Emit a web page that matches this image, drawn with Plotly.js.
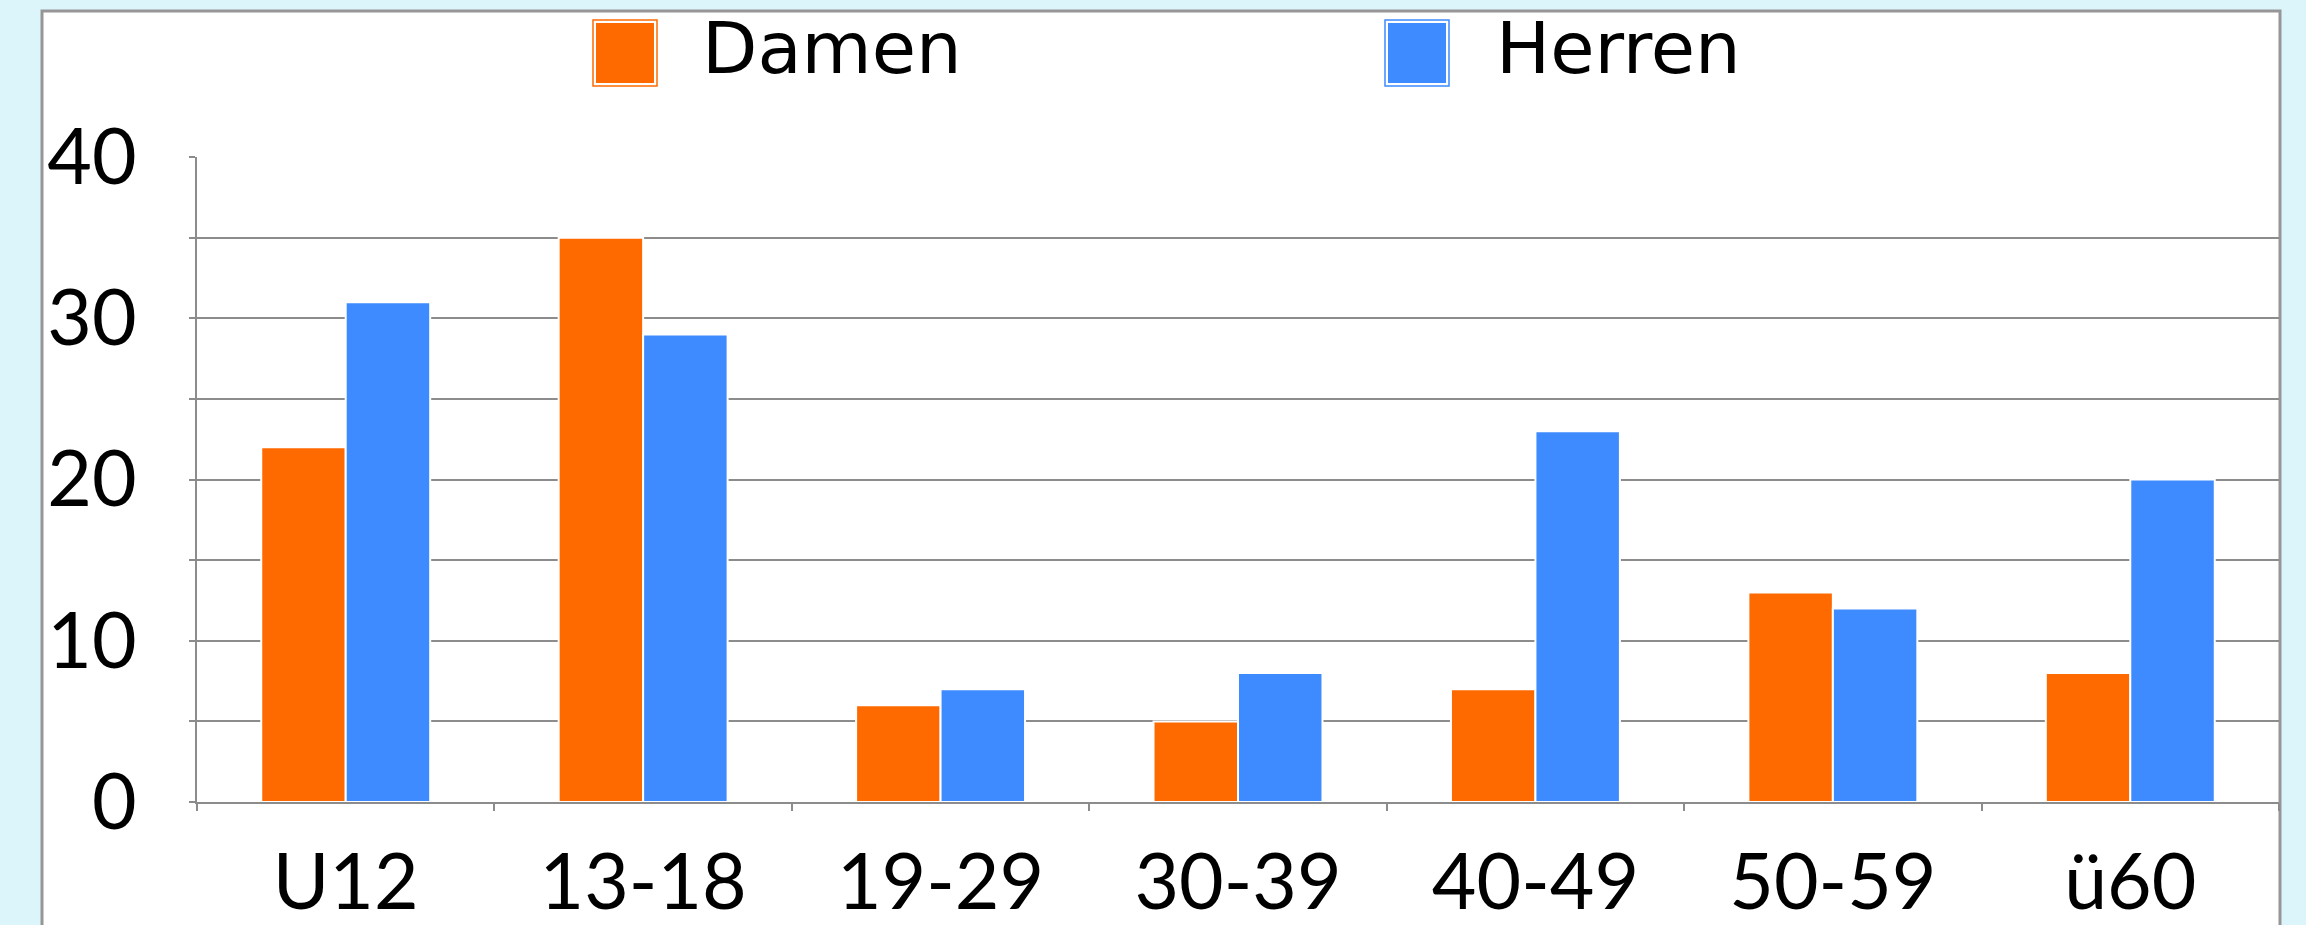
<!DOCTYPE html>
<html><head><meta charset="utf-8">
<script src="https://cdn.plot.ly/plotly-3.0.1.min.js"></script>
<style>html,body{margin:0;padding:0;background:#dcf5fb;} #chart{width:2306px;height:925px;}</style>
</head><body><div id="chart"></div>
<script>
const categories = ['U12','13-18','19-29','30-39','40-49','50-59','ü60'];
const damen = [22,35,6,5,7,13,8];
const herren = [31,29,7,8,23,12,20];
const seriesNames = ['Damen','Herren'];
const seriesColors = ['#ff6a00','#3d8bff'];
const yTickVals = [0,5,10,15,20,25,30,35,40];
const yTickText = ['0','','10','','20','','30','','40'];

const W = 2306, H = 925;
const PL = 197, PR = 2279, PT = 157, PB = 802;
const px = x => (x - PL) / (PR - PL);
const py = y => (PB - y) / (PB - PT);

const seriesValues = [damen, herren];
const traces = seriesNames.map((name, i) => ({
  type: 'bar', name: name, x: categories, y: seriesValues[i],
  marker: {color: seriesColors[i], line: {color: '#ffffff', width: 2}},
  hoverinfo: 'x+y+name', showlegend: false
}));

const shapes = [{
  type: 'rect', xref: 'paper', yref: 'paper', layer: 'below',
  x0: px(42), x1: px(2280), y0: py(1000), y1: py(11),
  fillcolor: '#ffffff', line: {color: '#969696', width: 3}
}];
const annotations = [];
const legSwX = [593, 1385], legTxtX = [700, 1494];
seriesNames.forEach((name, i) => {
  shapes.push({type: 'rect', xref: 'paper', yref: 'paper', layer: 'above',
    x0: px(legSwX[i]), x1: px(legSwX[i] + 64), y0: py(86), y1: py(20),
    fillcolor: '#ffffff', line: {color: seriesColors[i], width: 1.5}});
  shapes.push({type: 'rect', xref: 'paper', yref: 'paper', layer: 'above',
    x0: px(legSwX[i] + 3), x1: px(legSwX[i] + 61), y0: py(83), y1: py(23),
    fillcolor: seriesColors[i], line: {width: 0}});
  annotations.push({xref: 'paper', yref: 'paper', x: px(legTxtX[i]), y: py(48),
    xanchor: 'left', yanchor: 'middle', showarrow: false, text: name,
    font: {family: 'DejaVu Sans', size: 72, color: '#000000'}});
});

const layout = {
  width: W, height: H,
  margin: {l: PL, r: W - PR, t: PT, b: H - PB, pad: 0},
  paper_bgcolor: '#dcf5fb', plot_bgcolor: 'rgba(0,0,0,0)',
  barmode: 'group', bargap: 0.432, bargroupgap: 0,
  showlegend: false,
  font: {family: 'Lato, Carlito, sans-serif', color: '#000000'},
  xaxis: {
    type: 'category', tickson: 'boundaries', ticks: 'outside', ticklen: 7,
    tickcolor: '#8c8c8c', tickwidth: 2, showline: true, linecolor: '#8c8c8c', linewidth: 2,
    showgrid: false, zeroline: false, tickfont: {size: 77, family: 'Lato', color: '#000'},
    ticklabelstandoff: 13, fixedrange: true
  },
  yaxis: {
    range: [0, 40], tickvals: yTickVals, ticktext: yTickText,
    ticks: 'outside', ticklen: 6, tickcolor: '#8c8c8c', tickwidth: 2,
    showline: true, linecolor: '#8c8c8c', linewidth: 2,
    showgrid: true, gridcolor: '#8c8c8c', gridwidth: 2, zeroline: false,
    tickfont: {size: 77, family: 'Lato', color: '#000'}, ticklabelstandoff: 37, fixedrange: true
  },
  shapes: shapes, annotations: annotations
};
Plotly.newPlot('chart', traces, layout, {displayModeBar: false, staticPlot: true});
</script></body></html>
